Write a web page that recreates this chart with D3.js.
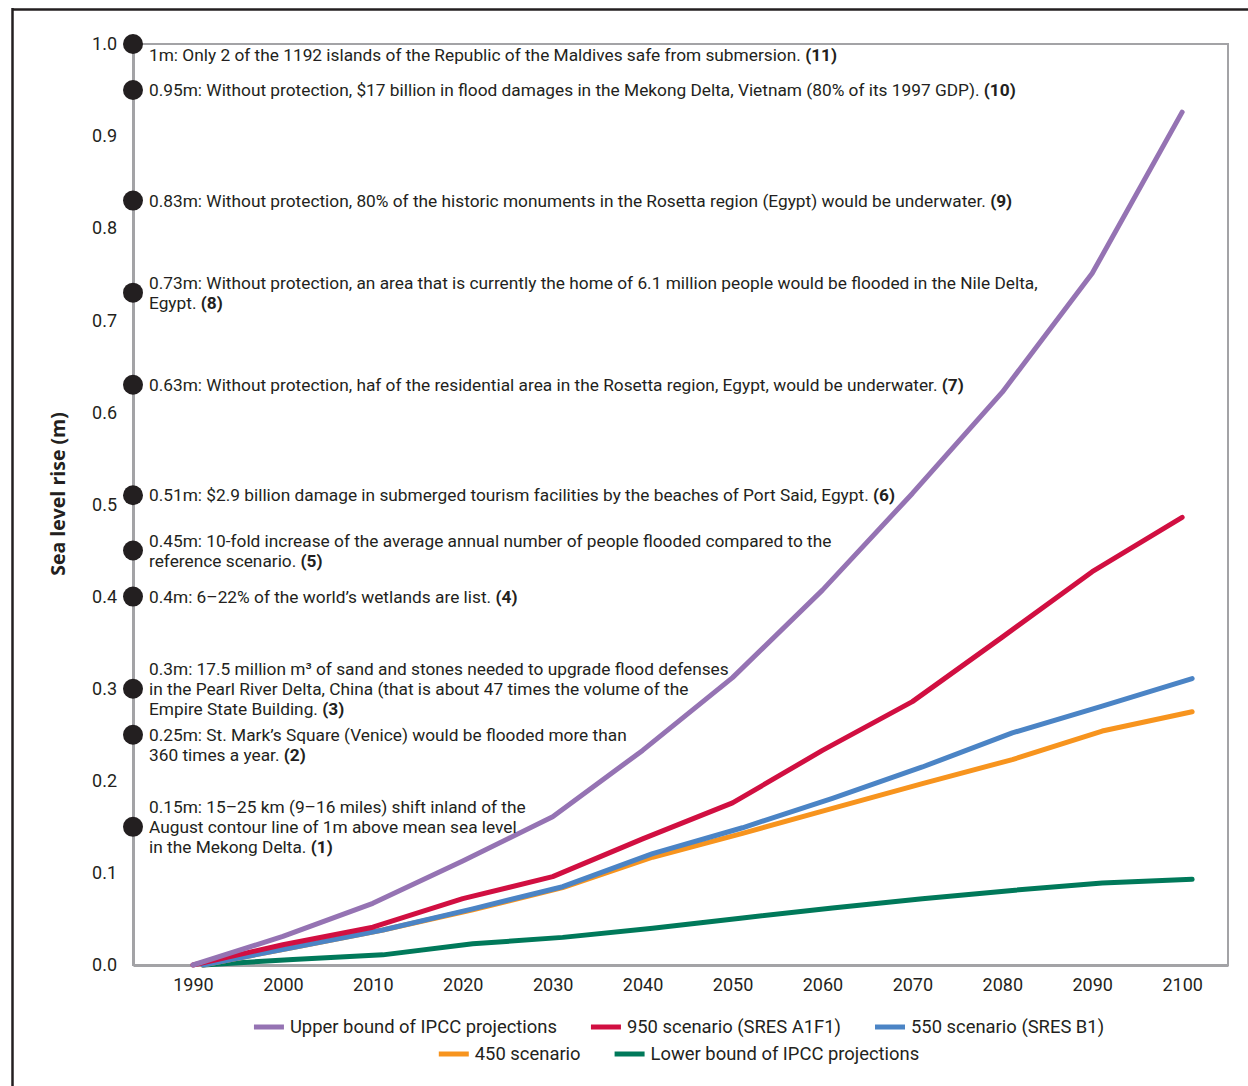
<!DOCTYPE html>
<html>
<head>
<meta charset="utf-8">
<script src="https://cdn.jsdelivr.net/npm/d3@7"></script>
<style>
  html, body { margin: 0; padding: 0; background: #fff; }
  svg { display: block; }
</style>
</head>
<body>
<svg id="chart" width="1248" height="1086"></svg>
<script>
// ---------- DATA ----------
const years = [1990, 2000, 2010, 2020, 2030, 2040, 2050, 2060, 2070, 2080, 2090, 2100];
const upperBound = [0, 0.031, 0.067, 0.113, 0.161, 0.233, 0.312, 0.407, 0.512, 0.622, 0.751, 0.926];
const scenario950 = [0, 0.022, 0.041, 0.072, 0.096, 0.137, 0.176, 0.233, 0.286, 0.356, 0.427, 0.486];
const scenario550 = [0, 0.019, 0.038, 0.061, 0.085, 0.121, 0.149, 0.181, 0.215, 0.252, 0.281, 0.311];
const scenario450 = [0, 0.019, 0.038, 0.060, 0.084, 0.117, 0.143, 0.170, 0.197, 0.223, 0.254, 0.275];
const lowerBound = [0, 0.006, 0.011, 0.023, 0.030, 0.040, 0.051, 0.062, 0.072, 0.081, 0.089, 0.093];
const seriesNames = ["Upper bound of IPCC projections", "950 scenario (SRES A1F1)", "550 scenario (SRES B1)", "450 scenario", "Lower bound of IPCC projections"];
const yTicks = [0, 0.1, 0.2, 0.3, 0.4, 0.5, 0.6, 0.7, 0.8, 0.9, 1.0];
const yTitle = "Sea level rise (m)";

// annotations: value on the axis and text lines; each line = [normal, bold]
const annValues = [1.0, 0.95, 0.83, 0.73, 0.63, 0.51, 0.45, 0.4, 0.3, 0.25, 0.15];
const annTexts = [
  [["1m: Only 2 of the 1192 islands of the Republic of the Maldives safe from submersion. ", "(11)"]],
  [["0.95m: Without protection, $17 billion in flood damages in the Mekong Delta, Vietnam (80% of its 1997 GDP). ", "(10)"]],
  [["0.83m: Without protection, 80% of the historic monuments in the Rosetta region (Egypt) would be underwater. ", "(9)"]],
  [["0.73m: Without protection, an area that is currently the home of 6.1 million people would be flooded in the Nile Delta,", ""], ["Egypt. ", "(8)"]],
  [["0.63m: Without protection, haf of the residential area in the Rosetta region, Egypt, would be underwater. ", "(7)"]],
  [["0.51m: $2.9 billion damage in submerged tourism facilities by the beaches of Port Said, Egypt. ", "(6)"]],
  [["0.45m: 10-fold increase of the average annual number of people flooded compared to the", ""], ["reference scenario. ", "(5)"]],
  [["0.4m: 6\u201322% of the world\u2019s wetlands are list. ", "(4)"]],
  [["0.3m: 17.5 million m\u00b3 of sand and stones needed to upgrade flood defenses", ""], ["in the Pearl River Delta, China (that is about 47 times the volume of the", ""], ["Empire State Building. ", "(3)"]],
  [["0.25m: St. Mark\u2019s Square (Venice) would be flooded more than", ""], ["360 times a year. ", "(2)"]],
  [["0.15m: 15\u201325 km (9\u201316 miles) shift inland of the", ""], ["August contour line of 1m above mean sea level", ""], ["in the Mekong Delta. ", "(1)"]]
];

// ---------- STYLE / LAYOUT ----------
const seriesData = [upperBound, scenario950, scenario550, scenario450, lowerBound];
const seriesColors = ["#9573b3", "#d10f41", "#4b84c5", "#f7941e", "#00795a"];
const seriesShift = [0, 0, 10, 10, 10];     // pixel offset seen in the original
const drawOrder = [4, 3, 2, 1, 0];
// annotation block vertical offset (in line units) relative to dot
const annLineOffset = [0.55, 0, 0, -0.5, 0, 0, -0.5, 0, -1, 0, -1];

const W = 1248, H = 1086;
const plot = { left: 133, right: 1228, top: 44, bottom: 965 };
const textColor = "#231f20";
const gridGray = "#a3a3a6";
const font = "Roboto, 'Noto Sans', sans-serif";

const svg = d3.select("#chart");

const x = d3.scaleLinear().domain([1983.33, 2105.1]).range([plot.left, plot.right]);
const y = d3.scaleLinear().domain([0, 1]).range([plot.bottom, plot.top]);

// outer frame (top + left)
svg.append("line").attr("x1", 12).attr("x2", W).attr("y1", 9.5).attr("y2", 9.5)
  .attr("stroke", textColor).attr("stroke-width", 2.5);
svg.append("line").attr("x1", 12.5).attr("x2", 12.5).attr("y1", 8).attr("y2", H)
  .attr("stroke", textColor).attr("stroke-width", 2.5);

// plot frame
svg.append("rect").attr("x", plot.left).attr("y", plot.top)
  .attr("width", plot.right - plot.left).attr("height", plot.bottom - plot.top)
  .attr("fill", "none").attr("stroke", gridGray).attr("stroke-width", 2);

// axes (gray lines, no ticks)
const yAxis = d3.axisLeft(y).tickValues(yTicks).tickFormat(d3.format(".1f")).tickSize(0).tickPadding(16);
const gy = svg.append("g").attr("transform", `translate(${plot.left},0)`).call(yAxis);
gy.select(".domain").attr("stroke", gridGray).attr("stroke-width", 3);
gy.selectAll("text").attr("font-family", font).attr("font-size", 18).attr("fill", textColor).attr("font-weight", 400);

const xAxis = d3.axisBottom(x).tickValues(years).tickFormat(d3.format("d")).tickSize(0).tickPadding(13);
const gx = svg.append("g").attr("transform", `translate(0,${plot.bottom})`).call(xAxis);
gx.select(".domain").attr("stroke", gridGray).attr("stroke-width", 3);
gx.selectAll("text").attr("font-family", font).attr("font-size", 18).attr("fill", textColor).attr("font-weight", 400);

// y title
svg.append("text")
  .attr("transform", `translate(65,494) rotate(-90)`)
  .attr("text-anchor", "middle")
  .attr("font-family", "'Open Sans', sans-serif")
  .attr("font-weight", 700)
  .attr("font-size", 19.5)
  .attr("fill", textColor)
  .text(yTitle);

// series lines
const line = d3.line().x((d, i) => x(years[i])).y(d => y(d));
drawOrder.forEach(k => {
  svg.append("path")
    .datum(seriesData[k])
    .attr("transform", `translate(${seriesShift[k]},0)`)
    .attr("d", line)
    .attr("fill", "none")
    .attr("stroke", seriesColors[k])
    .attr("stroke-width", 5)
    .attr("stroke-linejoin", "round")
    .attr("stroke-linecap", "round");
});

// annotations
const lineH = 20;
annValues.forEach((v, i) => {
  const cy = y(v);
  svg.append("circle").attr("cx", plot.left).attr("cy", cy).attr("r", 10).attr("fill", textColor);
  const lines = annTexts[i];
  lines.forEach((ln, j) => {
    const t = svg.append("text")
      .attr("x", plot.left + 16)
      .attr("y", cy + (annLineOffset[i] + j) * lineH)
      .attr("dy", "0.35em")
      .attr("font-family", font)
      .attr("font-size", 17.3)
      .attr("font-weight", 400)
      .attr("fill", textColor);
    t.append("tspan").text(ln[0]);
    if (ln[1]) t.append("tspan").attr("font-weight", 700).text(ln[1]);
  });
});

// legend
const legendRows = [[0, 1, 2], [3, 4]];
const legendY = [1027, 1054];
const legendGap = 34, swatchW = 30, swatchGap = 6;
legendRows.forEach((row, r) => {
  const g = svg.append("g");
  let cx = 0;
  row.forEach(k => {
    const item = g.append("g").attr("transform", `translate(${cx},0)`);
    item.append("line").attr("x1", 0).attr("x2", swatchW).attr("y1", 0).attr("y2", 0)
      .attr("stroke", seriesColors[k]).attr("stroke-width", 5);
    const t = item.append("text").attr("x", swatchW + swatchGap).attr("y", 0).attr("dy", "0.35em")
      .attr("font-family", font).attr("font-size", 18.4).attr("font-weight", 400)
      .attr("fill", textColor).text(seriesNames[k]);
    cx += swatchW + swatchGap + t.node().getComputedTextLength() + legendGap;
  });
  const total = cx - legendGap;
  const center = 679;
  g.attr("transform", `translate(${center - total / 2},${legendY[r]})`);
});
</script>
</body>
</html>
